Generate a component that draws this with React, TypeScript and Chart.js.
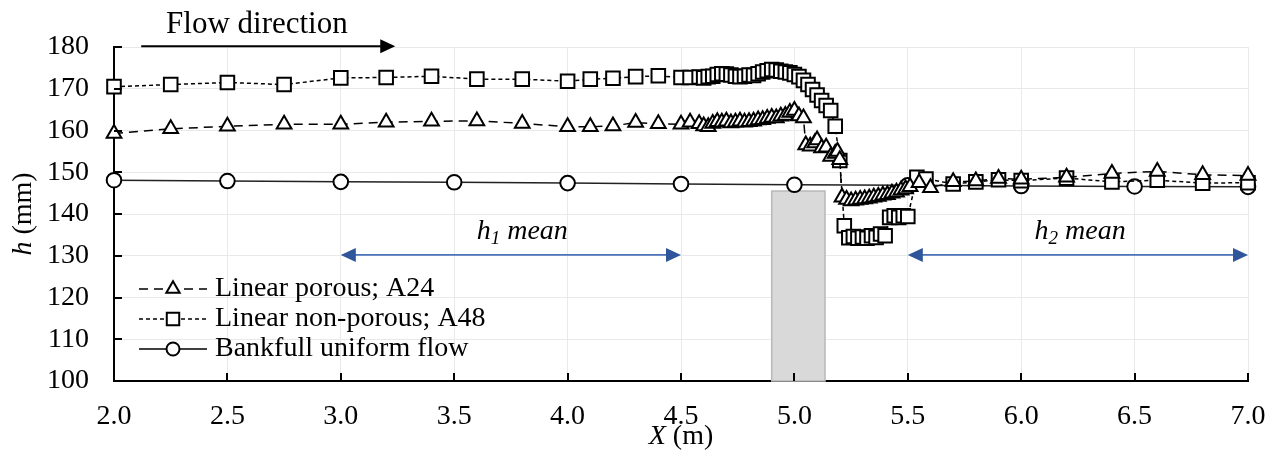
import React, { useEffect, useRef } from 'react';
import { Chart, registerables } from 'chart.js';

Chart.register(...registerables);

const FONT = '"Liberation Serif", "Times New Roman", serif';

// ---------- data ----------
const porousX = [2.0, 2.25, 2.5, 2.75, 3.0, 3.2, 3.4, 3.6, 3.8, 4.0, 4.1, 4.2, 4.3, 4.4, 4.5, 4.54,
  4.58, 4.6, 4.62, 4.64, 4.66, 4.68, 4.7, 4.72, 4.74, 4.76, 4.78, 4.8, 4.82, 4.84, 4.86, 4.88, 4.9,
  4.92, 4.94, 4.96, 4.98, 5.0, 5.02, 5.04, 5.05, 5.07, 5.09, 5.1, 5.12, 5.14, 5.16, 5.18, 5.19, 5.2,
  5.21, 5.23, 5.25, 5.27, 5.29, 5.31, 5.33, 5.35, 5.37, 5.39, 5.41, 5.43, 5.45, 5.47, 5.49, 5.51,
  5.55, 5.6, 5.7, 5.8, 5.9, 6.0, 6.2, 6.4, 6.6, 6.8, 7.0];
const porousH = [159.3, 160.4, 161.0, 161.5, 161.5, 162.0, 162.2, 162.3, 161.7, 160.9, 160.9, 161.1, 161.9, 161.6, 161.5, 162.0,
  161.6, 161.1, 160.9, 161.7, 162.1, 162.0, 162.2, 161.8, 162.0, 162.2, 162.0, 162.1, 162.2, 162.5, 162.6, 162.9, 163.1,
  163.0, 163.4, 163.6, 164.3, 164.8, 163.5, 163.0, 156.5, 156.2, 157.0, 157.7, 155.8, 156.0, 153.8, 154.5, 155.0, 153.0,
  144.0, 143.5, 143.1, 143.3, 143.5, 143.6, 143.8, 144.0, 144.2, 144.5, 144.6, 145.0, 145.2, 145.7, 146.0, 146.5,
  147.5, 146.3, 147.7, 147.9, 148.5, 148.3, 148.8, 149.7, 150.2, 149.4, 149.2];

const nonPorousX = [2.0, 2.25, 2.5, 2.75, 3.0, 3.2, 3.4, 3.6, 3.8, 4.0, 4.1, 4.2, 4.3, 4.4, 4.5, 4.54,
  4.58, 4.6, 4.62, 4.64, 4.66, 4.68, 4.7, 4.72, 4.74, 4.76, 4.78, 4.8, 4.82, 4.84, 4.86, 4.88, 4.9,
  4.92, 4.94, 4.96, 4.98, 5.0, 5.02, 5.04, 5.06, 5.08, 5.1, 5.12, 5.14, 5.16, 5.18, 5.2, 5.22, 5.24,
  5.26, 5.28, 5.3, 5.32, 5.34, 5.36, 5.38, 5.4, 5.42, 5.44, 5.46, 5.48, 5.5, 5.54, 5.58,
  5.7, 5.8, 5.9, 6.0, 6.2, 6.4, 6.6, 6.8, 7.0];
const nonPorousH = [170.5, 171.0, 171.5, 171.0, 172.6, 172.7, 173.0, 172.3, 172.3, 171.8, 172.3, 172.5, 172.9, 173.1, 172.7, 172.7,
  172.8, 172.6, 172.9, 173.0, 173.4, 173.6, 173.5, 173.3, 173.0, 172.9, 173.0, 173.3, 173.2, 173.6, 174.0, 174.3, 174.6,
  174.5, 174.2, 174.0, 173.8, 173.4, 172.9, 172.0, 171.0, 169.8, 168.5, 167.2, 166.0, 164.8, 161.0, 152.8, 137.2, 134.3,
  134.6, 134.2, 134.5, 134.2, 134.8, 134.4, 135.2, 134.8, 139.2, 139.6, 139.2, 139.6, 139.4, 148.8, 148.4,
  147.2, 147.7, 148.2, 148.0, 148.6, 147.7, 148.1, 147.4, 147.5];

const bankX = [2.0, 2.5, 3.0, 3.5, 4.0, 4.5, 5.0, 5.5, 6.0, 6.5, 7.0];
const bankH = [148.1, 147.9, 147.7, 147.6, 147.4, 147.2, 147.0, 146.9, 146.7, 146.6, 146.5];

const seriesLabels = ['Linear porous; A24', 'Linear non-porous; A48', 'Bankfull uniform flow'];

const xMin = 2.0, xMax = 7.0, xStep = 0.5;
const yMin = 100, yMax = 180, yStep = 10;

// weir block, mean-range arrows and flow arrow (data units)
const weirX = [4.9, 5.135];
const weirTop = 145.5;
const h1Range = [3.0, 4.5];
const h2Range = [5.5, 7.0];
const meanArrowH = 130.2;
const meanLabelH = 135.7;
const h1LabelX = 3.8;
const h2LabelX = 6.26;
const flowArrowX = [2.12, 3.24];
const flowArrowH = 180.15;
const flowLabelX = 2.63;
const flowLabelH = 185.3;

const pts = (xs: number[], ys: number[]) => xs.map((x, i) => ({ x, y: ys[i] }));

const MARK_R = [8.5, 9.6, 7.3];

function drawMarker(ctx: CanvasRenderingContext2D, style: string, x: number, y: number, r: number) {
  ctx.beginPath();
  if (style === 'triangle') {
    ctx.moveTo(x, y - r);
    ctx.lineTo(x + r * Math.sin(2 * Math.PI / 3), y - r * Math.cos(2 * Math.PI / 3));
    ctx.lineTo(x + r * Math.sin(4 * Math.PI / 3), y - r * Math.cos(4 * Math.PI / 3));
    ctx.closePath();
  } else if (style === 'rect') {
    const s = r * Math.SQRT1_2;
    ctx.rect(x - s, y - s, 2 * s, 2 * s);
  } else {
    ctx.arc(x, y, r, 0, Math.PI * 2);
  }
  ctx.fillStyle = '#fff';
  ctx.fill();
  ctx.lineWidth = 2;
  ctx.strokeStyle = '#000';
  ctx.setLineDash([]);
  ctx.stroke();
}

function doubleArrow(ctx: CanvasRenderingContext2D, x1: number, x2: number, y: number) {
  const hl = 15, hw = 7;
  ctx.save();
  ctx.strokeStyle = '#4a72b8';
  ctx.lineWidth = 1.6;
  ctx.beginPath();
  ctx.moveTo(x1 + hl - 2, y);
  ctx.lineTo(x2 - hl + 2, y);
  ctx.stroke();
  ctx.fillStyle = '#2f559a';
  ctx.beginPath();
  ctx.moveTo(x1, y); ctx.lineTo(x1 + hl, y - hw); ctx.lineTo(x1 + hl, y + hw); ctx.closePath();
  ctx.fill();
  ctx.beginPath();
  ctx.moveTo(x2, y); ctx.lineTo(x2 - hl, y - hw); ctx.lineTo(x2 - hl, y + hw); ctx.closePath();
  ctx.fill();
  ctx.restore();
}

function meanLabel(ctx: CanvasRenderingContext2D, sub: string, cx: number, cy: number) {
  ctx.save();
  ctx.fillStyle = '#000';
  ctx.textBaseline = 'middle';
  ctx.textAlign = 'left';
  const big = `italic 28px ${FONT}`;
  const small = `italic 19px ${FONT}`;
  ctx.font = big;
  const wh = ctx.measureText('h').width;
  const wm = ctx.measureText(' mean').width;
  ctx.font = small;
  const ws = ctx.measureText(sub).width;
  let x = cx - (wh + ws + wm) / 2;
  ctx.font = big;
  ctx.fillText('h', x, cy);
  x += wh;
  ctx.font = small;
  ctx.fillText(sub, x, cy + 7);
  x += ws;
  ctx.font = big;
  ctx.fillText(' mean', x, cy);
  ctx.restore();
}

const extras = {
  id: 'extras',
  beforeDatasetsDraw(chart: any) {
    const { ctx, scales: { x, y } } = chart;
    const l = x.getPixelForValue(weirX[0]);
    const r = x.getPixelForValue(weirX[1]);
    const t = y.getPixelForValue(weirTop);
    const b = y.getPixelForValue(yMin);
    ctx.save();
    ctx.fillStyle = '#d9d9d9';
    ctx.fillRect(l, t, r - l, b - t);
    ctx.strokeStyle = '#b8b8b8';
    ctx.lineWidth = 1.5;
    ctx.strokeRect(l, t, r - l, b - t);
    ctx.restore();
  },
  afterDraw(chart: any) {
    const { ctx, scales: { x, y }, chartArea } = chart;
    ctx.save();
    // inside tick marks
    ctx.strokeStyle = '#000';
    ctx.lineWidth = 2;
    ctx.setLineDash([]);
    for (let v = xMin; v <= xMax + 1e-9; v += xStep) {
      const px = Math.round(x.getPixelForValue(v));
      ctx.beginPath();
      ctx.moveTo(px, chartArea.bottom);
      ctx.lineTo(px, chartArea.bottom - 8);
      ctx.stroke();
    }
    for (let v = yMin; v <= yMax + 1e-9; v += yStep) {
      const py = Math.round(y.getPixelForValue(v));
      ctx.beginPath();
      ctx.moveTo(chartArea.left, py);
      ctx.lineTo(chartArea.left + 8, py);
      ctx.stroke();
    }

    // axis titles
    ctx.fillStyle = '#000';
    ctx.textBaseline = 'middle';
    ctx.textAlign = 'left';
    const it = `italic 28px ${FONT}`;
    const nt = `28px ${FONT}`;
    {
      ctx.font = it; const w1 = ctx.measureText('X').width;
      ctx.font = nt; const w2 = ctx.measureText(' (m)').width;
      const cx = (chartArea.left + chartArea.right) / 2;
      const sx = cx - (w1 + w2) / 2;
      ctx.font = it; ctx.fillText('X', sx, 437);
      ctx.font = nt; ctx.fillText(' (m)', sx + w1, 437);
    }
    {
      ctx.save();
      ctx.translate(24, (chartArea.top + chartArea.bottom) / 2);
      ctx.rotate(-Math.PI / 2);
      ctx.font = it; const w1 = ctx.measureText('h').width;
      ctx.font = nt; const w2 = ctx.measureText(' (mm)').width;
      const sx = -(w1 + w2) / 2;
      ctx.font = it; ctx.fillText('h', sx, 0);
      ctx.font = nt; ctx.fillText(' (mm)', sx + w1, 0);
      ctx.restore();
    }

    // mean arrows + labels
    const ay = y.getPixelForValue(meanArrowH);
    doubleArrow(ctx, x.getPixelForValue(h1Range[0]), x.getPixelForValue(h1Range[1]), ay);
    doubleArrow(ctx, x.getPixelForValue(h2Range[0]), x.getPixelForValue(h2Range[1]), ay);
    meanLabel(ctx, '1', x.getPixelForValue(h1LabelX), y.getPixelForValue(meanLabelH));
    meanLabel(ctx, '2', x.getPixelForValue(h2LabelX), y.getPixelForValue(meanLabelH));

    // flow direction
    ctx.fillStyle = '#000';
    ctx.font = `31px ${FONT}`;
    ctx.textAlign = 'center';
    ctx.textBaseline = 'middle';
    ctx.fillText('Flow direction', x.getPixelForValue(flowLabelX), y.getPixelForValue(flowLabelH));
    const fy = y.getPixelForValue(flowArrowH);
    const fx1 = x.getPixelForValue(flowArrowX[0]);
    const fx2 = x.getPixelForValue(flowArrowX[1]);
    ctx.strokeStyle = '#000';
    ctx.lineWidth = 2;
    ctx.beginPath();
    ctx.moveTo(fx1, fy);
    ctx.lineTo(fx2 - 12, fy);
    ctx.stroke();
    ctx.beginPath();
    ctx.moveTo(fx2, fy); ctx.lineTo(fx2 - 15, fy - 7); ctx.lineTo(fx2 - 15, fy + 7); ctx.closePath();
    ctx.fill();

    // legend
    const styles = ['triangle', 'rect', 'circle'];
    const dashes = [[9, 6], [4, 3], []];
    ctx.textAlign = 'left';
    ctx.font = `28px ${FONT}`;
    for (let i = 0; i < 3; i++) {
      const ly = 289 + 30 * i;
      ctx.strokeStyle = '#000';
      ctx.lineWidth = 1.5;
      ctx.setLineDash(dashes[i]);
      ctx.beginPath();
      ctx.moveTo(139, ly);
      ctx.lineTo(207, ly);
      ctx.stroke();
      ctx.setLineDash([]);
      drawMarker(ctx, styles[i], 173, ly, MARK_R[i] - 0.8);
      ctx.fillStyle = '#000';
      ctx.fillText(seriesLabels[i], 215, ly);
    }
    ctx.restore();
  },
};

export default function App() {
  const ref = useRef<HTMLCanvasElement>(null);
  useEffect(() => {
    if (!ref.current) return;
    const common = {
      showLine: true,
      borderColor: '#000',
      borderWidth: 1.5,
      pointBackgroundColor: '#fff',
      pointBorderColor: '#000',
      pointBorderWidth: 2,
      tension: 0,
      clip: false as any,
    };
    const chart = new Chart(ref.current, {
      type: 'scatter',
      data: {
        datasets: [
          { ...common, label: seriesLabels[0], data: pts(porousX, porousH), borderDash: [9, 6], pointStyle: 'triangle', pointRadius: MARK_R[0] },
          { ...common, label: seriesLabels[1], data: pts(nonPorousX, nonPorousH), borderDash: [4, 3], pointStyle: 'rect', pointRadius: MARK_R[1] },
          { ...common, label: seriesLabels[2], data: pts(bankX, bankH), borderColor: '#222', pointStyle: 'circle', pointRadius: MARK_R[2] },
        ],
      },
      options: {
        animation: false,
        responsive: false,
        events: [],
        layout: { padding: { top: 47, right: 24, left: 0, bottom: 0 } },
        plugins: { legend: { display: false }, tooltip: { enabled: false } },
        scales: {
          x: {
            type: 'linear',
            min: xMin,
            max: xMax,
            afterFit: (s: any) => { s.height = 81; s.paddingLeft = 0; s.paddingRight = 0; },
            ticks: {
              stepSize: xStep,
              color: '#000',
              padding: 19,
              maxRotation: 0,
              font: { family: FONT, size: 28 },
              callback: (v: any) => Number(v).toFixed(1),
            },
            grid: { color: '#e9e9e9', lineWidth: 1, drawTicks: false },
            border: { display: true, color: '#000', width: 2 },
          },
          y: {
            type: 'linear',
            min: yMin,
            max: yMax,
            afterFit: (s: any) => { s.width = 114; s.paddingTop = 0; s.paddingBottom = 0; },
            ticks: {
              stepSize: yStep,
              color: '#000',
              padding: 25,
              font: { family: FONT, size: 28 },
            },
            grid: { color: '#e9e9e9', lineWidth: 1, drawTicks: false },
            border: { display: true, color: '#000', width: 2 },
          },
        },
      },
      plugins: [extras],
    });
    return () => chart.destroy();
  }, []);
  return (
    <div style={{ position: 'absolute', left: 0, top: 0, width: 1272, height: 462, background: '#fff' }}>
      <canvas ref={ref} width={1272} height={462} style={{ display: 'block' }} />
    </div>
  );
}
